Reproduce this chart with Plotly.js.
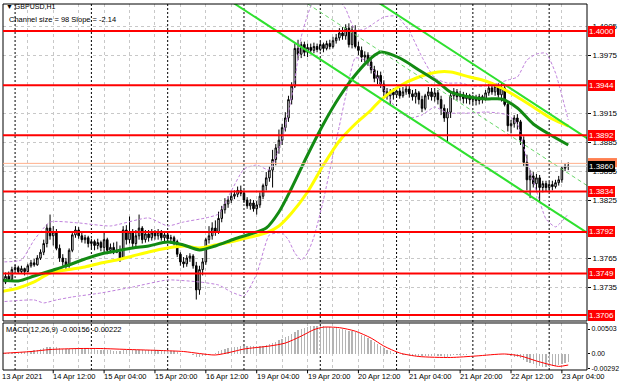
<!DOCTYPE html>
<html><head><meta charset="utf-8">
<script src="https://cdn.plot.ly/plotly-3.0.1.min.js"></script>
<style>html,body{margin:0;padding:0;background:#fff;}#chart{width:620px;height:388px;}</style>
</head><body><div id="chart"></div>
<script>
// ---- GBPUSD H1 candles (bar 0 = 13 Apr 21:00) ----
const openP = [1.3740,1.3746,1.3743,1.3753,1.3755,1.3751,1.3754,1.3751,1.3757,1.3760,
1.3758,1.3765,1.3771,1.3780,1.3796,1.3788,1.3792,1.3775,1.3765,1.3761,
1.3757,1.3773,1.3789,1.3794,1.3788,1.3784,1.3786,1.3780,1.3782,1.3778,
1.3781,1.3776,1.3784,1.3773,1.3776,1.3773,1.3771,1.3765,1.3794,1.3784,
1.3792,1.3780,1.3788,1.3796,1.3784,1.3790,1.3786,1.3791,1.3788,1.3792,
1.3786,1.3789,1.3785,1.3786,1.3782,1.3769,1.3761,1.3759,1.3765,1.3767,
1.3757,1.3732,1.3753,1.3761,1.3784,1.3788,1.3796,1.3792,1.3806,1.3815,
1.3821,1.3825,1.3829,1.3831,1.3835,1.3832,1.3825,1.3819,1.3822,1.3816,
1.3820,1.3829,1.3840,1.3848,1.3856,1.3867,1.3879,1.3887,1.3900,1.3910,
1.3929,1.3943,1.3982,1.3976,1.3986,1.3978,1.3983,1.3980,1.3984,1.3981,
1.3986,1.3982,1.3987,1.3984,1.3990,1.3993,1.3998,1.3995,1.4003,1.3986,
1.4001,1.3984,1.3980,1.3973,1.3975,1.3968,1.3960,1.3951,1.3954,1.3945,
1.3937,1.3933,1.3937,1.3934,1.3938,1.3933,1.3937,1.3940,1.3935,1.3932,
1.3936,1.3929,1.3920,1.3933,1.3937,1.3932,1.3936,1.3929,1.3920,1.3910,
1.3916,1.3933,1.3937,1.3932,1.3934,1.3930,1.3933,1.3929,1.3931,1.3928,
1.3932,1.3930,1.3936,1.3941,1.3937,1.3943,1.3934,1.3941,1.3924,1.3902,
1.3904,1.3910,1.3906,1.3887,1.3864,1.3846,1.3850,1.3842,1.3848,1.3838,
1.3842,1.3838,1.3841,1.3839,1.3843,1.3846,1.3858,1.3860];
const highP = [1.3750,1.3751,1.3756,1.3758,1.3757,1.3757,1.3755,1.3759,1.3763,1.3764,
1.3768,1.3774,1.3784,1.3800,1.3810,1.3798,1.3795,1.3779,1.3769,1.3765,
1.3775,1.3792,1.3798,1.3797,1.3791,1.3789,1.3788,1.3785,1.3784,1.3785,
1.3783,1.3792,1.3786,1.3780,1.3781,1.3782,1.3778,1.3798,1.3799,1.3808,
1.3795,1.3794,1.3810,1.3798,1.3794,1.3794,1.3795,1.3794,1.3795,1.3794,
1.3793,1.3791,1.3789,1.3788,1.3784,1.3771,1.3766,1.3768,1.3770,1.3769,
1.3761,1.3757,1.3765,1.3786,1.3798,1.3802,1.3804,1.3813,1.3819,1.3827,
1.3829,1.3833,1.3835,1.3839,1.3840,1.3835,1.3828,1.3826,1.3825,1.3824,
1.3833,1.3842,1.3854,1.3860,1.3877,1.3883,1.3898,1.3904,1.3916,1.3933,
1.3947,1.3987,1.3991,1.3989,1.3989,1.3987,1.3987,1.3988,1.3987,1.3989,
1.3988,1.3990,1.3991,1.3994,1.3997,1.4003,1.4004,1.4007,1.4008,1.4005,
1.4006,1.3989,1.3984,1.3979,1.3978,1.3972,1.3964,1.3959,1.3958,1.3949,
1.3941,1.3940,1.3941,1.3941,1.3941,1.3942,1.3944,1.3943,1.3939,1.3940,
1.3938,1.3933,1.3935,1.3942,1.3941,1.3941,1.3939,1.3933,1.3924,1.3920,
1.3937,1.3941,1.3940,1.3938,1.3937,1.3936,1.3935,1.3934,1.3934,1.3935,
1.3934,1.3939,1.3945,1.3947,1.3945,1.3946,1.3946,1.3943,1.3927,1.3908,
1.3913,1.3914,1.3908,1.3891,1.3872,1.3856,1.3854,1.3852,1.3851,1.3845,
1.3845,1.3844,1.3845,1.3846,1.3850,1.3860,1.3863,1.3864];
const lowP = [1.3738,1.3741,1.3741,1.3750,1.3749,1.3749,1.3747,1.3750,1.3755,1.3756,
1.3757,1.3763,1.3768,1.3776,1.3784,1.3778,1.3773,1.3761,1.3757,1.3753,
1.3755,1.3771,1.3786,1.3785,1.3781,1.3780,1.3776,1.3775,1.3773,1.3774,
1.3772,1.3771,1.3769,1.3770,1.3769,1.3770,1.3761,1.3763,1.3779,1.3780,
1.3775,1.3776,1.3784,1.3780,1.3781,1.3782,1.3783,1.3784,1.3784,1.3783,
1.3782,1.3781,1.3780,1.3778,1.3766,1.3757,1.3755,1.3756,1.3761,1.3754,
1.3722,1.3727,1.3747,1.3758,1.3780,1.3784,1.3788,1.3790,1.3802,1.3811,
1.3817,1.3822,1.3826,1.3828,1.3829,1.3822,1.3816,1.3815,1.3813,1.3810,
1.3817,1.3826,1.3835,1.3844,1.3838,1.3861,1.3873,1.3882,1.3896,1.3906,
1.3924,1.3941,1.3970,1.3972,1.3974,1.3973,1.3976,1.3977,1.3978,1.3979,
1.3978,1.3980,1.3981,1.3982,1.3987,1.3990,1.3991,1.3991,1.3983,1.3982,
1.3982,1.3975,1.3968,1.3968,1.3964,1.3956,1.3947,1.3945,1.3941,1.3932,
1.3929,1.3924,1.3929,1.3931,1.3930,1.3931,1.3934,1.3931,1.3928,1.3925,
1.3924,1.3916,1.3918,1.3929,1.3928,1.3927,1.3924,1.3913,1.3906,1.3885,
1.3910,1.3929,1.3928,1.3928,1.3925,1.3925,1.3924,1.3924,1.3923,1.3924,
1.3925,1.3928,1.3933,1.3934,1.3933,1.3931,1.3927,1.3922,1.3896,1.3894,
1.3900,1.3898,1.3882,1.3860,1.3835,1.3827,1.3838,1.3835,1.3823,1.3833,
1.3834,1.3834,1.3835,1.3837,1.3840,1.3843,1.3855,1.3856];
const closeP = [1.3746,1.3743,1.3753,1.3755,1.3751,1.3754,1.3751,1.3757,1.3760,1.3758,
1.3765,1.3771,1.3780,1.3796,1.3788,1.3792,1.3775,1.3765,1.3761,1.3757,
1.3773,1.3789,1.3794,1.3788,1.3784,1.3786,1.3780,1.3782,1.3778,1.3781,
1.3776,1.3784,1.3773,1.3776,1.3773,1.3771,1.3765,1.3794,1.3784,1.3792,
1.3780,1.3788,1.3796,1.3784,1.3790,1.3786,1.3791,1.3788,1.3792,1.3786,
1.3789,1.3785,1.3786,1.3782,1.3769,1.3761,1.3759,1.3765,1.3767,1.3757,
1.3732,1.3753,1.3761,1.3784,1.3788,1.3796,1.3792,1.3806,1.3815,1.3821,
1.3825,1.3829,1.3831,1.3835,1.3832,1.3825,1.3819,1.3822,1.3816,1.3820,
1.3829,1.3840,1.3848,1.3856,1.3867,1.3879,1.3887,1.3900,1.3910,1.3929,
1.3943,1.3982,1.3976,1.3986,1.3978,1.3983,1.3980,1.3984,1.3981,1.3986,
1.3982,1.3987,1.3984,1.3990,1.3993,1.3998,1.3995,1.4003,1.3986,1.4001,
1.3984,1.3980,1.3973,1.3975,1.3968,1.3960,1.3951,1.3954,1.3945,1.3937,
1.3933,1.3937,1.3934,1.3938,1.3933,1.3937,1.3940,1.3935,1.3932,1.3936,
1.3929,1.3920,1.3933,1.3937,1.3932,1.3936,1.3929,1.3920,1.3910,1.3916,
1.3933,1.3937,1.3932,1.3934,1.3930,1.3933,1.3929,1.3931,1.3928,1.3932,
1.3930,1.3936,1.3941,1.3937,1.3943,1.3934,1.3941,1.3924,1.3902,1.3904,
1.3910,1.3906,1.3887,1.3864,1.3846,1.3850,1.3842,1.3848,1.3838,1.3842,
1.3838,1.3841,1.3839,1.3843,1.3846,1.3858,1.3860,1.3860];

// ---- moving averages (at sample bars) ----
const maBars = [-2,4,9,14,19,25,30,35,40,45,51,56,61,66,72,77,82,86,90,95,100,105,110,115,118,124,130,136,140,146,151,156,161,166,172,177];
const greenMA = [1.37423,1.37413,1.37464,1.37516,1.37568,1.3764,1.37692,1.37723,1.37754,1.37775,1.37816,1.37785,1.37734,1.37775,1.37847,1.37899,1.37961,1.38127,1.38375,1.38717,1.39038,1.39317,1.39545,1.39721,1.39783,1.39721,1.39597,1.39472,1.39369,1.39317,1.39296,1.39296,1.39203,1.39038,1.38913,1.3882];
const yellowMA = [1.37299,1.3734,1.37402,1.37495,1.37527,1.37558,1.37599,1.3763,1.37671,1.37713,1.37754,1.37775,1.37754,1.37785,1.37827,1.37868,1.3791,1.37982,1.38116,1.38334,1.38613,1.38862,1.39038,1.39183,1.39286,1.39431,1.39524,1.39576,1.39576,1.39524,1.39483,1.3941,1.39317,1.39214,1.39089,1.39017];

// ---- Bollinger bands ----
const upperBars = [-2,5,9,14,23,33,45,51,56,63,67,71,75,79,83,87,89,91,93,95,97,100,103,105,107,110,113,116,119,123,127,131,135,139,143,147,151,155,158,161,164,167,170,173,177];
const upperBB = [1.37609,1.3763,1.37837,1.38023,1.38013,1.37982,1.38065,1.37982,1.38023,1.38065,1.38106,1.38344,1.38572,1.38613,1.38562,1.38882,1.39162,1.39493,1.39938,1.40166,1.40331,1.40425,1.40383,1.40321,1.40228,1.4001,1.40021,1.40083,1.40145,1.40155,1.4000,1.3973,1.39514,1.39462,1.39462,1.39431,1.39431,1.39462,1.39493,1.39524,1.397,1.39762,1.39772,1.39565,1.39079];
const lowerBars = [-2,9,12,16,21,30,40,51,61,67,71,75,79,83,87,89,91,93,95,97,100,103,105,107,110,113,116,119,123,127,131,135,139,143,147,151,155,158,161,164,167,170,173,177];
const lowerBB = [1.37195,1.37216,1.37185,1.37216,1.37247,1.37288,1.3735,1.37423,1.37402,1.37371,1.37299,1.37257,1.37485,1.37889,1.3791,1.37837,1.37702,1.3763,1.37702,1.37868,1.38251,1.38717,1.39017,1.39327,1.39721,1.397,1.39576,1.394,1.39193,1.391,1.39131,1.39214,1.39151,1.39151,1.39151,1.39162,1.39151,1.39131,1.39038,1.38665,1.38344,1.38054,1.37972,1.38106];

// ---- regression channel (98 pips, slope -2.14 pips/bar) ----
const channelBars = [60, 183];
const channelUpper = [1.41521, 1.38889];
const channelMid = [1.41031, 1.38399];
const channelLower = [1.40541, 1.37909];

// ---- levels ----
const levels = [1.4000, 1.3944, 1.3892, 1.3834, 1.3792, 1.3749, 1.3706];
const bidPrice = 1.3860, askPrice = 1.3863;
const priceTicks = [1.4005,1.3975,1.3915,1.3885,1.3855,1.3825,1.3765,1.3735];

// ---- MACD(12,26,9) ----
const macdMain = [0.0002,0.0002,0.0003,0.0003,0.0003,0.0004,0.0005,0.0006,0.0007,0.0008,
0.0009,0.0010,0.0012,0.0014,0.0015,0.0015,0.0014,0.0012,0.0011,0.0010,
0.0011,0.0012,0.0013,0.0013,0.0012,0.0012,0.0011,0.0010,0.0010,0.0009,
0.0009,0.0009,0.0008,0.0008,0.0007,0.0007,0.0006,0.0008,0.0008,0.0009,
0.0008,0.0008,0.0009,0.0008,0.0008,0.0008,0.0008,0.0008,0.0008,0.0008,
0.0007,0.0007,0.0007,0.0006,0.0004,0.0002,0.0000,-0.0001,-0.0001,-0.0003,
-0.0006,-0.0006,-0.0005,-0.0003,-0.0001,0.0001,0.0003,0.0006,0.0008,0.0010,
0.0012,0.0013,0.0014,0.0015,0.0016,0.0016,0.0016,0.0016,0.0016,0.0016,
0.0016,0.0017,0.0018,0.0020,0.0022,0.0025,0.0028,0.0031,0.0034,0.0037,
0.0041,0.0045,0.0048,0.0051,0.0053,0.0055,0.0056,0.0057,0.0057,0.0057,
0.0056,0.0055,0.0054,0.0053,0.0052,0.0051,0.0050,0.0049,0.0047,0.0046,
0.0044,0.0042,0.0039,0.0036,0.0033,0.0029,0.0025,0.0021,0.0017,0.0013,
0.0009,0.0006,0.0003,0.0001,-0.0001,-0.0002,-0.0003,-0.0003,-0.0004,-0.0004,
-0.0004,-0.0005,-0.0005,-0.0005,-0.0005,-0.0004,-0.0004,-0.0005,-0.0006,-0.0006,
-0.0004,-0.0003,-0.0003,-0.0002,-0.0002,-0.0002,-0.0001,-0.0001,-0.0001,-0.0001,
0.0000,0.0000,0.0001,0.0001,0.0001,0.0001,0.0001,0.0000,-0.0003,-0.0005,
-0.0006,-0.0007,-0.0009,-0.0012,-0.0016,-0.0019,-0.0021,-0.0023,-0.0025,-0.0026,
-0.0026,-0.0026,-0.0025,-0.0024,-0.0023,-0.0020,-0.0018,-0.00156];
const signalBars = [-2,8,14,23,30,39,49,56,61,66,71,75,83,88,93,97,100,105,110,115,119,124,130,140,148,157,162,167,171,174,177];
const macdSignal = [0.0001,0.0005,0.0009,0.0011,0.0011,0.0009,0.0007,0.0005,0.0001,-0.0002,0.0004,0.0010,0.0016,0.0022,0.0036,0.0049,0.0054,0.0053,0.0046,0.0032,0.0016,0.0002,-0.0005,-0.0007,-0.0004,0.0000,-0.0004,-0.0014,-0.0021,-0.0025,-0.00222];
const macdTicks = [0.00503, 0, -0.00292];
const macdTickText = ['0.00503', '0.00', '-0.00292'];

// ---- time axis ----
const daySeparators = [3, 27, 51, 75, 99, 123, 147, 171];
const gridBars = [7,15,23,31,39,47,55,63,71,79,87,95,103,111,119,127,135,143,151,159,167,175];
const labelBars = [15, 31, 47, 63, 79, 95, 111, 127, 143, 159, 175];
const labelText = ['14 Apr 12:00','15 Apr 04:00','15 Apr 20:00','16 Apr 12:00','19 Apr 04:00','19 Apr 20:00','20 Apr 12:00','21 Apr 04:00','21 Apr 20:00','22 Apr 12:00','23 Apr 04:00'];
const firstLabel = '13 Apr 2021';

const bars = closeP.map((_, i) => i);
const BB = '#bf80dc';

const traces = [
  {type:'scatter', mode:'lines', x:upperBars, y:upperBB, line:{color:BB, width:1, dash:'3px,2px', shape:'spline', smoothing:0.5}, hoverinfo:'skip'},
  {type:'scatter', mode:'lines', x:lowerBars, y:lowerBB, line:{color:BB, width:1, dash:'3px,2px', shape:'spline', smoothing:0.5}, hoverinfo:'skip'},
  {type:'candlestick', x:bars, open:openP, high:highP, low:lowP, close:closeP,
   increasing:{line:{color:'#000', width:1}, fillcolor:'#ffffff'},
   decreasing:{line:{color:'#000', width:1}, fillcolor:'#000000'},
   whiskerwidth:0, hoverinfo:'skip'},
  {type:'scatter', mode:'lines', x:maBars, y:yellowMA, line:{color:'#ffff00', width:3, shape:'spline', smoothing:0.8}, hoverinfo:'skip'},
  {type:'scatter', mode:'lines', x:maBars, y:greenMA, line:{color:'#138a13', width:3, shape:'spline', smoothing:0.8}, hoverinfo:'skip'},
  {type:'scatter', mode:'lines', x:channelBars, y:channelMid, line:{color:'#6ad86a', width:1, dash:'4px,3px'}, hoverinfo:'skip'},
  {type:'scatter', mode:'lines', x:channelBars, y:channelUpper, line:{color:'#2fe02f', width:2}, hoverinfo:'skip'},
  {type:'scatter', mode:'lines', x:channelBars, y:channelLower, line:{color:'#2fe02f', width:2}, hoverinfo:'skip'},
  {type:'bar', x:bars, y:macdMain, xaxis:'x', yaxis:'y2', width:0.42, marker:{color:'#b4b4b4', line:{width:0}}, hoverinfo:'skip'},
  {type:'scatter', mode:'lines', x:signalBars, y:macdSignal, xaxis:'x', yaxis:'y2', line:{color:'#ff0000', width:1, shape:'spline', smoothing:0.7}, hoverinfo:'skip'}
];

const shapes = [];
const ann = [];
// panel frames
shapes.push({type:'rect', xref:'paper', yref:'paper', x0:0, x1:1, y0:0.13388, y1:1, line:{color:'#000', width:1}, layer:'above'});
shapes.push({type:'rect', xref:'paper', yref:'paper', x0:0, x1:1, y0:0, y1:0.12842, line:{color:'#000', width:1}, layer:'above'});
// day separators
daySeparators.forEach(b => shapes.push({type:'line', xref:'x', yref:'paper', x0:b, x1:b, y0:0, y1:1, line:{color:'#000', width:1, dash:'2px,2px'}, layer:'below'}));
// label tick marks
labelBars.forEach(b => shapes.push({type:'line', xref:'x', yref:'paper', x0:b, x1:b, y0:0, y1:-0.009, line:{color:'#000', width:1}}));
// bid / ask lines
shapes.push({type:'line', xref:'paper', yref:'y', x0:0, x1:1, y0:bidPrice, y1:bidPrice, line:{color:'#cfcfcf', width:1}, layer:'above'});
shapes.push({type:'line', xref:'paper', yref:'y', x0:0, x1:1, y0:askPrice, y1:askPrice, line:{color:'#ffb08c', width:1}, layer:'above'});
// red levels
levels.forEach(v => shapes.push({type:'line', xref:'paper', yref:'y', x0:0, x1:1, y0:v, y1:v, line:{color:'#ff0000', width:2}, layer:'above'}));
// ask marker box peeking above the bid label
shapes.push({type:'rect', xref:'paper', yref:'y', x0:1.0017, x1:1.0513, y0:askPrice - 0.0004, y1:askPrice + 0.00055, fillcolor:'#ff7f50', line:{width:0}, layer:'above'});

levels.forEach(v => ann.push({xref:'paper', x:1, xanchor:'left', xshift:1, yref:'y', y:v, yanchor:'middle', text:v.toFixed(4), showarrow:false, bgcolor:'#ff0000', font:{color:'#ffffff', size:8}, borderpad:1, borderwidth:0}));
ann.push({xref:'paper', x:1, xanchor:'left', xshift:1, yref:'y', y:bidPrice, yanchor:'middle', text:bidPrice.toFixed(4), showarrow:false, bgcolor:'#000000', font:{color:'#ffffff', size:8}, borderpad:1, borderwidth:0});

labelBars.forEach((b, i) => ann.push({xref:'x', x:b, xanchor:'left', xshift:-2, yref:'paper', y:-0.019, yanchor:'middle', text:labelText[i], showarrow:false, font:{size:7.5}}));
ann.push({xref:'paper', x:0, xanchor:'left', xshift:-3, yref:'paper', y:-0.019, yanchor:'middle', text:firstLabel, showarrow:false, font:{size:7.5}});

ann.push({xref:'paper', x:0.0034, xanchor:'left', xshift:-1, yref:'paper', y:0.9926, yanchor:'middle', text:'▼ GBPUSD,H1', showarrow:false, font:{size:7}});
ann.push({xref:'paper', x:0.0086, xanchor:'left', xshift:-1, yref:'paper', y:0.959, yanchor:'middle', text:'Channel size = 98 Slope = -2.14', showarrow:false, font:{size:7.5}});
ann.push({xref:'paper', x:0.0034, xanchor:'left', xshift:-1, yref:'paper', y:0.1093, yanchor:'middle', text:'MACD(12,26,9) -0.00156 -0.00222', showarrow:false, font:{size:7.5}});

const grid = {gridcolor:'#c8c8c8', gridwidth:1, griddash:'3px,3px'};
const layout = {
  width:620, height:388, margin:{l:3, r:33, t:4, b:18, pad:0},
  paper_bgcolor:'#ffffff', plot_bgcolor:'#ffffff', showlegend:false,
  font:{family:'Liberation Sans, Arial, sans-serif', size:8, color:'#000'},
  bargap:0,
  xaxis:Object.assign({domain:[0,1], anchor:'y2', range:[-0.8,182.9], tickmode:'array', tickvals:gridBars, showticklabels:false, ticks:'', showgrid:true, zeroline:false, showline:false, fixedrange:true, rangeslider:{visible:false}}, grid),
  yaxis:Object.assign({domain:[0.13388,1], range:[1.36998,1.40280], side:'right', tickmode:'array', tickvals:priceTicks, ticktext:priceTicks.map(v => v.toFixed(4)), ticks:'outside', ticklen:3, tickcolor:'#000', showgrid:true, zeroline:false, showline:false, tickfont:{size:8}, fixedrange:true}, grid),
  yaxis2:{domain:[0,0.12842], range:[-0.00322,0.00624], side:'right', tickmode:'array', tickvals:macdTicks, ticktext:macdTickText, ticks:'outside', ticklen:2, tickcolor:'#000', showgrid:false, zeroline:false, showline:false, tickfont:{size:7}, fixedrange:true},
  shapes:shapes, annotations:ann
};
Plotly.newPlot('chart', traces, layout, {displayModeBar:false, staticPlot:true});
</script></body></html>
